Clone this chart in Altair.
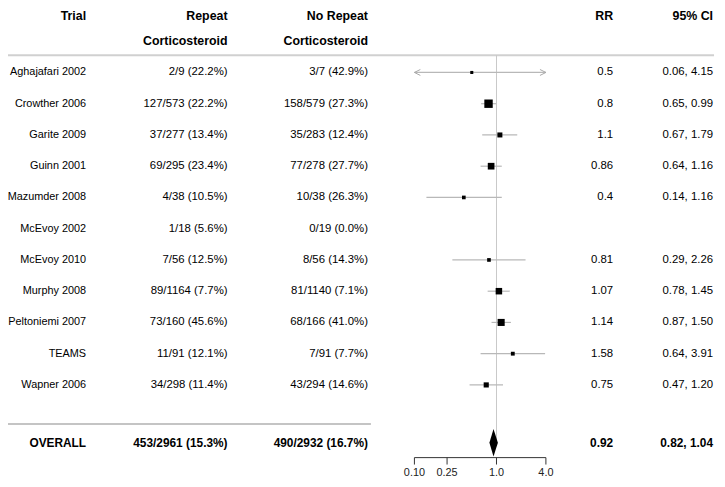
import math
import altair as alt
import pandas as pd

# ---------------- data ----------------
trials = ["Aghajafari 2002", "Crowther 2006", "Garite 2009", "Guinn 2001", "Mazumder 2008",
          "McEvoy 2002", "McEvoy 2010", "Murphy 2008", "Peltoniemi 2007", "TEAMS", "Wapner 2006"]
repeat = ["2/9 (22.2%)", "127/573 (22.2%)", "37/277 (13.4%)", "69/295 (23.4%)", "4/38 (10.5%)",
          "1/18 (5.6%)", "7/56 (12.5%)", "89/1164 (7.7%)", "73/160 (45.6%)", "11/91 (12.1%)",
          "34/298 (11.4%)"]
no_repeat = ["3/7 (42.9%)", "158/579 (27.3%)", "35/283 (12.4%)", "77/278 (27.7%)", "10/38 (26.3%)",
             "0/19 (0.0%)", "8/56 (14.3%)", "81/1140 (7.1%)", "68/166 (41.0%)", "7/91 (7.7%)",
             "43/294 (14.6%)"]
rr = [0.5, 0.8, 1.1, 0.86, 0.4, None, 0.81, 1.07, 1.14, 1.58, 0.75]
lo = [0.06, 0.65, 0.67, 0.64, 0.14, None, 0.29, 0.78, 0.87, 0.64, 0.47]
hi = [4.15, 0.99, 1.79, 1.16, 1.16, None, 2.26, 1.45, 1.50, 3.91, 1.20]
rr_text = ["0.5", "0.8", "1.1", "0.86", "0.4", "", "0.81", "1.07", "1.14", "1.58", "0.75"]
ci_text = ["0.06, 4.15", "0.65, 0.99", "0.67, 1.79", "0.64, 1.16", "0.14, 1.16", "",
           "0.29, 2.26", "0.78, 1.45", "0.87, 1.50", "0.64, 3.91", "0.47, 1.20"]

overall_label = "OVERALL"
overall_repeat = "453/2961 (15.3%)"
overall_no_repeat = "490/2932 (16.7%)"
overall_rr, overall_lo, overall_hi = 0.92, 0.82, 1.04
overall_rr_text, overall_ci_text = "0.92", "0.82, 1.04"

tick_values = [0.1, 0.25, 1.0, 4.0]
tick_labels = ["0.10", "0.25", "1.0", "4.0"]

headers1 = ["Trial", "Repeat", "No Repeat", "RR", "95% CI"]
headers2 = ["", "Corticosteroid", "Corticosteroid", "", ""]

# ---------------- layout constants ----------------
W, H = 709, 448
PAD_TOP, PAD_BOTTOM, PAD_RIGHT = 8, 20, 8
ROW0_PAGE, ROW_STEP = 70.5, 31.6
X_ONE = 494          # chart-pixel of RR = 1
PX_DEC = 83          # pixels per decade
XMIN, XMAX = 0.1, 4.0
FONT = "Liberation Sans"

def row_at(page_y):
    return (page_y - ROW0_PAGE) / ROW_STEP

y_dom = [row_at(8 + PAD_TOP), row_at(8 + PAD_TOP + H)]
x_dom = [10 ** (-X_ONE / PX_DEC), 10 ** ((W - X_ONE) / PX_DEC)]

y_scale = alt.Scale(domain=y_dom, reverse=True, nice=False, zero=False)
x_scale = alt.Scale(type="log", domain=x_dom, nice=False)
Y = lambda f="row": alt.Y(f"{f}:Q", scale=y_scale, axis=None)
Y2 = lambda f: alt.Y2(f"{f}:Q")

HEAD1_ROW = row_at(13.5)
HEAD2_ROW = row_at(38.5)
OVERALL_ROW = 11.85
SEP_ROW = row_at(426)
HEAD_LINE_ROW = row_at(53)
AXIS_ROW = row_at(460)
TICK_END_ROW = row_at(467)
TICK_LAB_ROW = row_at(476)

n = len(trials)
rows = list(range(n))

# study table
studies = pd.DataFrame({"row": rows, "trial": trials, "rep": repeat, "norep": no_repeat,
                        "rr": rr, "lo": lo, "hi": hi, "rr_t": rr_text, "ci_t": ci_text})
est = studies.dropna(subset=["rr"]).copy()
est["lo_c"] = est["lo"].clip(lower=XMIN)
est["hi_c"] = est["hi"].clip(upper=XMAX)
info = 1.0 / (est["hi"].apply(math.log) - est["lo"].apply(math.log))
side = 2.5 + 6.0 * info / info.max()
est["area"] = side ** 2

left_arrows = est[est["lo"] < XMIN]
right_arrows = est[est["hi"] > XMAX]

# text columns: (field, chart-x right edge)
col_x = {"trial": 79, "rep": 222, "norep": 364, "rr_t": 612, "ci_t": 713}
col_fs = {"trial": 11, "rep": 11.5, "norep": 11.5, "rr_t": 11.5, "ci_t": 11.5}

layers = []

# header texts
for i, key in enumerate(["trial", "rep", "norep", "rr_t", "ci_t"]):
    hd = pd.DataFrame({"row": [HEAD1_ROW, HEAD2_ROW], "t": [headers1[i], headers2[i]]})
    layers.append(alt.Chart(hd).mark_text(align="right", baseline="middle", font=FONT,
                                          fontSize=12.5, fontWeight="bold", color="black")
                  .encode(x=alt.value(col_x[key]), y=Y(), text="t:N"))

# header separator line
layers.append(alt.Chart(pd.DataFrame({"row": [HEAD_LINE_ROW]})).mark_rule(color="#d0d0d0", strokeWidth=2)
              .encode(x=alt.value(-8), x2=alt.value(W + PAD_RIGHT - 3), y=Y()))

# overall separator line
layers.append(alt.Chart(pd.DataFrame({"row": [SEP_ROW]})).mark_rule(color="#b0b0b0", strokeWidth=1.5)
              .encode(x=alt.value(-5), x2=alt.value(367), y=Y()))

# study text columns
for key in ["trial", "rep", "norep", "rr_t", "ci_t"]:
    layers.append(alt.Chart(studies).mark_text(align="right", baseline="middle", font=FONT,
                                               fontSize=col_fs[key], color="black")
                  .encode(x=alt.value(col_x[key]), y=Y(), text=f"{key}:N"))

# overall text
ov = pd.DataFrame({"row": [OVERALL_ROW], "trial": [overall_label], "rep": [overall_repeat],
                   "norep": [overall_no_repeat], "rr_t": [overall_rr_text], "ci_t": [overall_ci_text]})
for key in ["trial", "rep", "norep", "rr_t", "ci_t"]:
    layers.append(alt.Chart(ov).mark_text(align="right", baseline="middle", font=FONT,
                                          fontSize=12, fontWeight="bold", color="black")
                  .encode(x=alt.value(col_x[key]), y=Y(), text=f"{key}:N"))

# reference line at RR = 1
ref = pd.DataFrame({"x": [1.0], "row": [HEAD_LINE_ROW], "row2": [OVERALL_ROW]})
layers.append(alt.Chart(ref).mark_rule(color="#c8c8c8", strokeWidth=1)
              .encode(x=alt.X("x:Q", scale=x_scale, axis=None), y=Y(), y2=Y2("row2")))

# CI lines
layers.append(alt.Chart(est).mark_rule(color="#b8b8b8", strokeWidth=1.2)
              .encode(x=alt.X("lo_c:Q", scale=x_scale, axis=None), x2="hi_c:Q", y=Y()))

# arrows for truncated CIs
layers.append(alt.Chart(left_arrows).mark_point(shape="M2,-1L0,0L2,1", filled=False, size=36,
                                                color="#a8a8a8", strokeWidth=1, opacity=1)
              .encode(x=alt.X("lo_c:Q", scale=x_scale, axis=None), y=Y()))
layers.append(alt.Chart(right_arrows).mark_point(shape="M-2,-1L0,0L-2,1", filled=False, size=36,
                                                 color="#a8a8a8", strokeWidth=1, opacity=1)
              .encode(x=alt.X("hi_c:Q", scale=x_scale, axis=None), y=Y()))

# point estimates
layers.append(alt.Chart(est).mark_square(color="black", opacity=1, strokeWidth=0)
              .encode(x=alt.X("rr:Q", scale=x_scale, axis=None), y=Y(),
                      size=alt.Size("area:Q", scale=None, legend=None)))

# overall diamond
dh = 14 / ROW_STEP
dia = pd.DataFrame({"x": [overall_lo, overall_rr, overall_hi],
                    "top": [OVERALL_ROW, OVERALL_ROW - dh, OVERALL_ROW],
                    "bot": [OVERALL_ROW, OVERALL_ROW + dh, OVERALL_ROW]})
layers.append(alt.Chart(dia).mark_area(color="black", opacity=1, orient="vertical")
              .encode(x=alt.X("x:Q", scale=x_scale, axis=None), y=Y("top"), y2=Y2("bot")))

# custom x axis
ax = pd.DataFrame({"x": [XMIN], "x2": [XMAX], "row": [AXIS_ROW]})
layers.append(alt.Chart(ax).mark_rule(color="#333333", strokeWidth=1)
              .encode(x=alt.X("x:Q", scale=x_scale, axis=None), x2="x2:Q", y=Y()))
tk = pd.DataFrame({"x": tick_values, "lab": tick_labels, "row": [AXIS_ROW] * 4,
                   "row2": [TICK_END_ROW] * 4, "lrow": [TICK_LAB_ROW] * 4})
layers.append(alt.Chart(tk).mark_rule(color="#333333", strokeWidth=1)
              .encode(x=alt.X("x:Q", scale=x_scale, axis=None), y=Y(), y2=Y2("row2")))
layers.append(alt.Chart(tk).mark_text(align="center", baseline="middle", font=FONT,
                                      fontSize=11, color="#222222")
              .encode(x=alt.X("x:Q", scale=x_scale, axis=None), y=Y("lrow"), text="lab:N"))

chart = alt.layer(*layers).properties(
    width=W, height=H,
    background="white",
    autosize=alt.AutoSizeParams(type="none"),
    padding={"left": 0, "top": PAD_TOP, "right": PAD_RIGHT, "bottom": PAD_BOTTOM},
).configure_view(strokeWidth=0, stroke="transparent")

chart.save("out.html", embed_options={"renderer": "svg", "actions": False})
